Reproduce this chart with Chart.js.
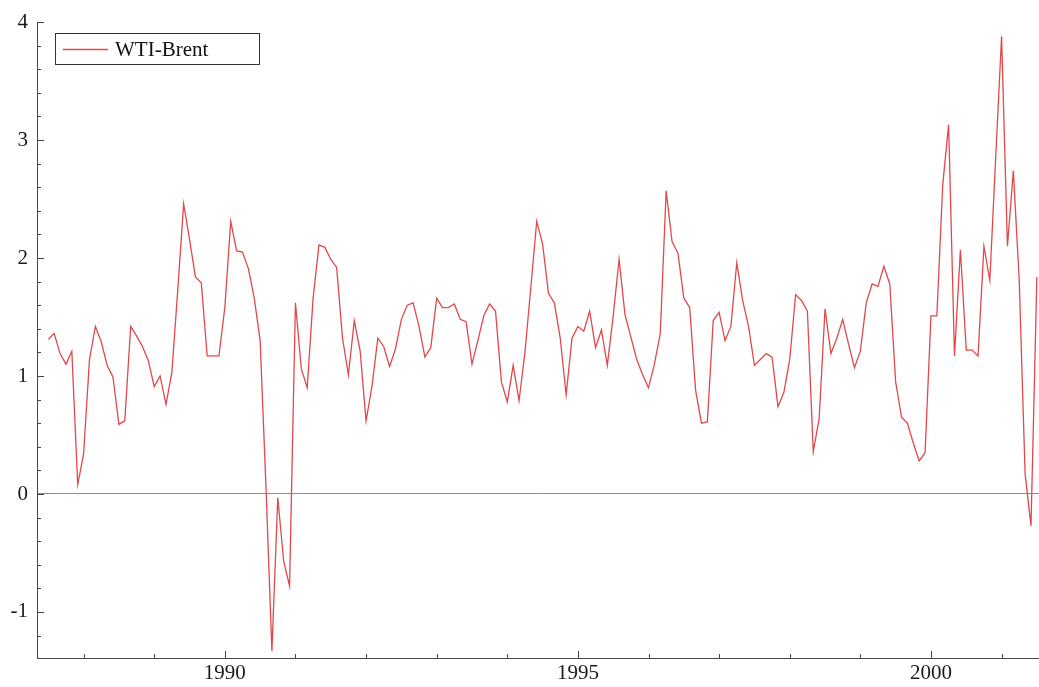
<!DOCTYPE html>
<html>
<head>
<meta charset="utf-8">
<script src="https://cdn.jsdelivr.net/npm/chart.js@4.4.1/dist/chart.umd.min.js"></script>
<style>
    html, body { margin: 0; padding: 0; background: #fff; }
    #wrap { width: 1039px; height: 687px; position: relative; }
</style>
</head>
<body>
<div id="wrap"><canvas id="spreadChart"></canvas></div>
<script>
// monthly WTI minus Brent spread, first observation July 1987
const seriesLabel = 'WTI-Brent';
const firstYear = 1987;
const firstMonth = 7;
const spread = [
    1.31, 1.36, 1.19, 1.10, 1.21, 0.08, 0.34, 1.14, 1.42, 1.29, 1.09, 0.99,
    0.59, 0.62, 1.42, 1.34, 1.25, 1.13, 0.91, 1.00, 0.76, 1.03, 1.73, 2.46,
    2.16, 1.84, 1.79, 1.17, 1.17, 1.17, 1.58, 2.31, 2.06, 2.05, 1.91, 1.66,
    1.30, 0.05, -1.33, -0.03, -0.57, -0.78, 1.62, 1.06, 0.90, 1.66, 2.11, 2.09,
    1.99, 1.92, 1.32, 1.01, 1.47, 1.21, 0.62, 0.91, 1.32, 1.25, 1.08, 1.23,
    1.48, 1.60, 1.62, 1.42, 1.16, 1.24, 1.66, 1.58, 1.58, 1.61, 1.48, 1.46,
    1.10, 1.30, 1.51, 1.61, 1.55, 0.95, 0.78, 1.09, 0.79, 1.20, 1.75, 2.31,
    2.12, 1.70, 1.62, 1.32, 0.84, 1.32, 1.42, 1.38, 1.55, 1.24, 1.39, 1.09,
    1.51, 1.99, 1.52, 1.33, 1.14, 1.01, 0.90, 1.10, 1.36, 2.57, 2.14, 2.04,
    1.66, 1.58, 0.88, 0.60, 0.61, 1.47, 1.54, 1.30, 1.42, 1.96, 1.64, 1.42,
    1.09, 1.14, 1.19, 1.16, 0.74, 0.86, 1.14, 1.69, 1.64, 1.55, 0.36, 0.64,
    1.57, 1.19, 1.32, 1.48, 1.27, 1.07, 1.21, 1.62, 1.78, 1.76, 1.93, 1.78,
    0.95, 0.65, 0.60, 0.43, 0.28, 0.35, 1.51, 1.51, 2.62, 3.13, 1.17, 2.07,
    1.22, 1.22, 1.17, 2.10, 1.81, 2.85, 3.88, 2.10, 2.74, 1.81, 0.17, -0.27,
    1.84
];
const xTickYears = [1988, 1989, 1990, 1991, 1992, 1993, 1994, 1995, 1996, 1997, 1998, 1999, 2000, 2001];
const xLabelYears = [1990, 1995, 2000];
const yTicks = [-1.2, -1, -0.8, -0.6, -0.4, -0.2, 0, 0.2, 0.4, 0.6, 0.8, 1, 1.2, 1.4, 1.6, 1.8,
    2, 2.2, 2.4, 2.6, 2.8, 3, 3.2, 3.4, 3.6, 3.8, 4];

const points = spread.map((v, i) => ({ x: firstYear + (firstMonth - 1 + i) / 12, y: v }));

const axisFont = { family: '"Liberation Serif", "DejaVu Serif", serif', size: 21 };

// small tick marks pointing into the plot
const innerTicks = {
    id: 'innerTicks',
    afterDraw(chart) {
        const { ctx, chartArea, scales } = chart;
        ctx.save();
        ctx.strokeStyle = '#444';
        ctx.lineWidth = 1;
        scales.y.ticks.forEach(t => {
            const y = Math.round(scales.y.getPixelForValue(t.value)) + 0.5;
            const len = Number.isInteger(t.value) ? 7 : 4;
            ctx.beginPath();
            ctx.moveTo(chartArea.left, y);
            ctx.lineTo(chartArea.left + len, y);
            ctx.stroke();
        });
        scales.x.ticks.forEach(t => {
            const x = Math.round(scales.x.getPixelForValue(t.value)) + 0.5;
            const len = xLabelYears.includes(t.value) ? 7 : 4;
            ctx.beginPath();
            ctx.moveTo(x, chartArea.bottom);
            ctx.lineTo(x, chartArea.bottom - len);
            ctx.stroke();
        });
        ctx.restore();
    }
};

// boxed legend in the top left corner
const legendBox = {
    id: 'legendBox',
    afterDraw(chart) {
        const ds = chart.data.datasets[0];
        const ctx = chart.ctx;
        ctx.save();
        ctx.strokeStyle = '#333';
        ctx.lineWidth = 1;
        ctx.strokeRect(55.5, 33.5, 204, 31);
        ctx.strokeStyle = ds.borderColor;
        ctx.lineWidth = ds.borderWidth;
        ctx.beginPath();
        ctx.moveTo(63, 49.5);
        ctx.lineTo(108, 49.5);
        ctx.stroke();
        ctx.fillStyle = '#111';
        ctx.font = '21px "Liberation Serif", serif';
        ctx.textBaseline = 'middle';
        ctx.fillText(ds.label, 115, 50);
        ctx.restore();
    }
};

const spreadCtx = document.getElementById('spreadChart').getContext('2d');
new Chart(spreadCtx, {
    type: 'line',
    data: {
        datasets: [{
            label: seriesLabel,
            data: points,
            borderColor: '#e4474a',
            borderWidth: 1.3,
            pointRadius: 0,
            tension: 0,
            fill: false
        }]
    },
    options: {
        responsive: true,
        maintainAspectRatio: false,
        animation: false,
        layout: { padding: { top: 22, right: 0, bottom: 0, left: 0 } },
        plugins: {
            legend: { display: false },
            tooltip: { enabled: false }
        },
        scales: {
            x: {
                type: 'linear',
                min: 1987.34,
                max: 2001.53,
                afterBuildTicks: scale => { scale.ticks = xTickYears.map(v => ({ value: v })); },
                afterFit: scale => { scale.height = 29; },
                grid: { display: false, drawTicks: false },
                border: { color: '#444', width: 1 },
                ticks: {
                    autoSkip: false,
                    maxRotation: 0,
                    padding: 3,
                    color: '#1a1a1a',
                    font: axisFont,
                    callback: v => xLabelYears.includes(v) ? String(v) : ''
                }
            },
            y: {
                min: -1.39,
                max: 4,
                afterBuildTicks: scale => { scale.ticks = yTicks.map(v => ({ value: v })); },
                afterFit: scale => { scale.width = 37; },
                grid: {
                    drawTicks: false,
                    color: ctx => ctx.tick && ctx.tick.value === 0 ? '#8c8c8c' : 'rgba(0,0,0,0)',
                    lineWidth: 1
                },
                border: { color: '#444', width: 1 },
                ticks: {
                    autoSkip: false,
                    padding: 9,
                    color: '#1a1a1a',
                    font: axisFont,
                    callback: v => Number.isInteger(v) ? String(v) : ''
                }
            }
        }
    },
    plugins: [innerTicks, legendBox]
});
</script>
</body>
</html>
